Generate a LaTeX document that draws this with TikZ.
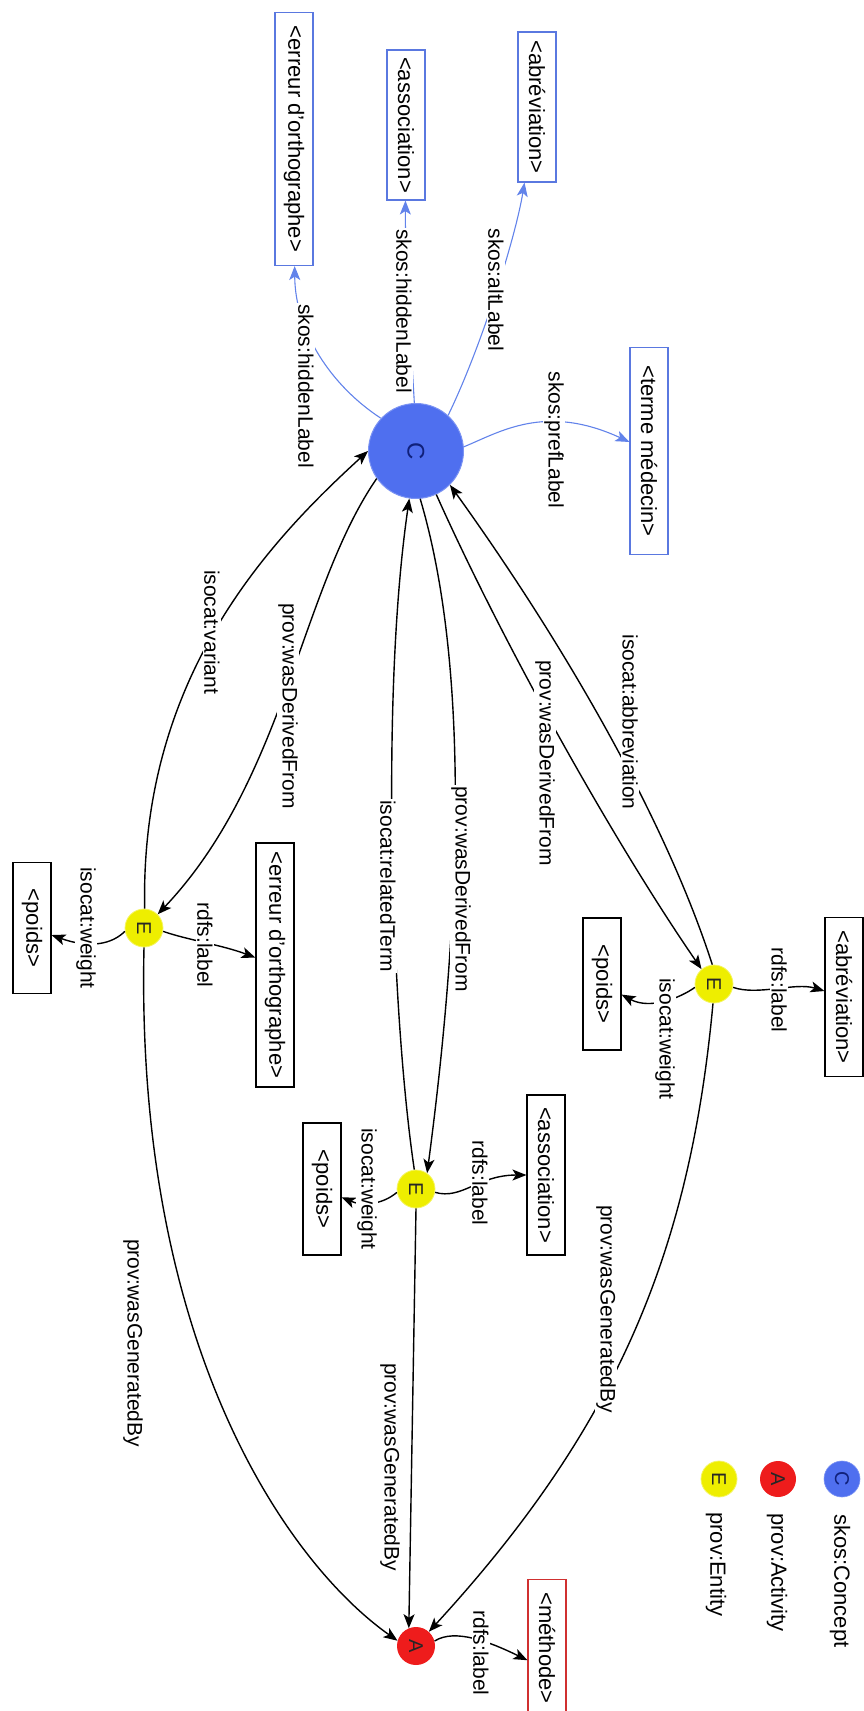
\documentclass[tikz,border=0pt]{standalone}
\usepackage{graphicx}
\usepackage{fontspec}
\setmainfont{Liberation Sans}
\usetikzlibrary{arrows.meta}
\definecolor{cblue}{HTML}{4F6FEF}
\definecolor{cnavy}{HTML}{10207A}
\definecolor{ared}{HTML}{EE1C1C}
\definecolor{eyel}{HTML}{EEEE00}
\definecolor{eblue}{HTML}{6283EA}
\definecolor{bblue}{HTML}{5A78E0}
\definecolor{bred}{HTML}{D03030}
\tikzset{
  elab/.style={rotate=-90, fill=white, inner sep=1.5pt, font=\fontsize{21}{24}\selectfont},
  tbox/.style={rotate=-90, draw, line width=1.1pt, minimum height=38pt, inner sep=4pt, font=\fontsize{22}{26}\selectfont},
  bluebox/.style={tbox, draw=bblue},
  blackbox/.style={tbox, draw=black},
  redbox/.style={tbox, draw=bred},
  cnode/.style={circle, fill=cblue, draw=cblue!75!white, line width=1pt, minimum size=95pt, inner sep=0pt, text=cnavy, font=\fontsize{24}{24}\selectfont},
  anode/.style={circle, fill=ared, minimum size=38pt, inner sep=0pt, text=black!85, font=\fontsize{20}{20}\selectfont},
  enode/.style={circle, fill=eyel, draw=eyel!60!white, line width=0.8pt, minimum size=38pt, inner sep=0pt, text=black!85, font=\fontsize{20}{20}\selectfont},
  bedge/.style={draw=eblue, line width=1.1pt, -{Stealth[length=14pt,width=11pt,inset=3.5pt]}},
  kedge/.style={draw=black, line width=1.4pt, -{Stealth[length=14pt,width=11pt,inset=3.5pt]}},
  legtext/.style={rotate=-90, anchor=west, inner sep=0pt, font=\fontsize{22}{26}\selectfont},
}
\begin{document}
\begin{tikzpicture}[x=1pt,y=-1pt]
\useasboundingbox (0,0) rectangle (864,1711);
% main nodes
\node[cnode] (C) at (416,451) {\rotatebox{-90}{C}};
\node[anode] (A) at (416,1646) {\rotatebox{-90}{A}};
\node[enode] (E1) at (714,984) {\rotatebox{-90}{E}};
\node[enode] (E2) at (416,1189) {\rotatebox{-90}{E}};
\node[enode] (E3) at (144,928) {\rotatebox{-90}{E}};
% literal boxes
\node[bluebox, minimum width=207pt] (Bt) at (649,451) {<terme médecin>};
\node[bluebox, minimum width=253pt] (Be) at (294,139) {<erreur d'orthographe>};
\node[bluebox, minimum width=150pt] (Ba) at (406,125) {<association>};
\node[bluebox, minimum width=150pt] (Bb) at (537,107) {<abréviation>};
\node[blackbox, minimum width=159pt] (Kb) at (844,997) {<abréviation>};
\node[blackbox, minimum width=132pt] (Kp1) at (602,984) {<poids>};
\node[blackbox, minimum width=160pt] (Ka) at (546,1175) {<association>};
\node[blackbox, minimum width=132pt] (Kp2) at (322,1189) {<poids>};
\node[blackbox, minimum width=244pt] (Ke) at (275,965) {<erreur d'orthographe>};
\node[blackbox, minimum width=131pt] (Kp3) at (32,928) {<poids>};
\node[redbox, minimum width=137pt] (M) at (547,1648) {<méthode>};
% blue edges
\draw[bedge] (C.137) .. controls (330,385) and (295,330) .. (Be);
\draw[bedge] (C.92) .. controls (412,360) and (405,260) .. (Ba);
\draw[bedge] (C.48) .. controls (480,350) and (515,240) .. (Bb);
\draw[bedge] (C.5) .. controls (500,432) and (545,403) .. (Bt);
% black edges
\draw[kedge] (E3.88) .. controls (140,680) and (265,545) .. (C.180);
\draw[kedge] (C.215) .. controls (300,590) and (285,780) .. (E3.45);
\draw[kedge] (E2.95) .. controls (392,1020) and (380,700) .. (C.262);
\draw[kedge] (C.275) .. controls (480,700) and (450,1000) .. (E2.55);
\draw[kedge] (C.295) .. controls (505,648) and (616,845) .. (E1.130);
\draw[kedge] (E1.95) .. controls (664,815) and (560,638) .. (C.315);
\draw[kedge] (E1.-93) .. controls (690,1253) and (616,1428) .. (A.48);
\draw[kedge] (E2.-90) -- (A.112);
\draw[kedge] (E3.-90) .. controls (135,1350) and (290,1565) .. (A.164);
\draw[kedge] (E1.-10) .. controls (758,996) and (795,982) .. (Kb);
\draw[kedge] (E1.190) .. controls (680,998) and (650,1010) .. (Kp1);
\draw[kedge] (E2.-10) .. controls (462,1200) and (478,1175) .. (Ka);
\draw[kedge] (E2.190) .. controls (382,1205) and (362,1206) .. (Kp2);
\draw[kedge] (E3.-10) .. controls (188,940) and (222,945) .. (Ke);
\draw[kedge] (E3.190) .. controls (108,948) and (82,946) .. (Kp3);
\draw[kedge] (A.15) .. controls (455,1628) and (490,1642) .. (M.302);
% edge labels
\node[elab] (lh1) at (306,386) {skos:hiddenLabel};
\node[elab] (lh2) at (404,311) {skos:hiddenLabel};
\node[elab] (lal) at (496,290) {skos:altLabel};
\node[elab] (lpr) at (554,440) {skos:prefLabel};
\node[elab] (lva) at (212,632) {isocat:variant};
\node[elab] (ld1) at (288,706) {prov:wasDerivedFrom};
\node[elab] (lrt) at (388,886) {isocat:relatedTerm};
\node[elab] (ld2) at (461,889) {prov:wasDerivedFrom};
\node[elab] (ld3) at (545,763) {prov:wasDerivedFrom};
\node[elab] (lab) at (630,722) {isocat:abbreviation};
\node[elab] (ll1) at (779,990) {rdfs:label};
\node[elab] (lw1) at (665,1039) {isocat:weight};
\node[elab] (ll2) at (480,1183) {rdfs:label};
\node[elab] (lw2) at (367,1189) {isocat:weight};
\node[elab] (ll3) at (205,945) {rdfs:label};
\node[elab] (lw3) at (86,928) {isocat:weight};
\node[elab] (lg1) at (606,1309) {prov:wasGeneratedBy};
\node[elab] (lg2) at (390,1467) {prov:wasGeneratedBy};
\node[elab] (lg3) at (133,1343) {prov:wasGeneratedBy};
\node[elab] (ll4) at (481,1653) {rdfs:label};
% legend
\node[cnode, minimum size=36pt, line width=0.6pt, font=\fontsize{20}{20}\selectfont] (lgc) at (842,1479) {\rotatebox{-90}{C}};
\node[anode, minimum size=36pt] (lga) at (778,1479) {\rotatebox{-90}{A}};
\node[enode, minimum size=36pt] (lge) at (719,1479) {\rotatebox{-90}{E}};
\node[legtext] (tc) at (840,1514) {skos:Concept};
\node[legtext] (ta) at (777,1513) {prov:Activity};
\node[legtext] (te) at (716,1512) {prov:Entity};
\end{tikzpicture}
\end{document}
